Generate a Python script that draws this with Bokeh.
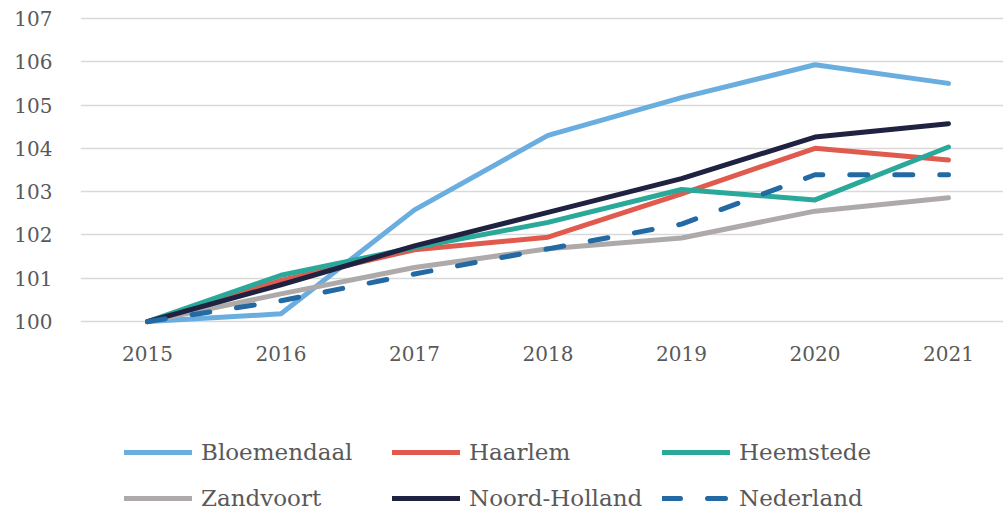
from bokeh.plotting import figure
from bokeh.models import Range1d, FixedTicker, Legend, LegendItem
from bokeh.layouts import column
from bokeh.embed import file_html
from bokeh.resources import INLINE

years = [2015, 2016, 2017, 2018, 2019, 2020, 2021]
year_labels = ["2015", "2016", "2017", "2018", "2019", "2020", "2021"]
y_ticks = [100, 101, 102, 103, 104, 105, 106, 107]

bloemendaal = [100, 100.18, 102.58, 104.3, 105.17, 105.93, 105.5]
haarlem = [100, 100.95, 101.66, 101.95, 102.95, 104.0, 103.73]
heemstede = [100, 101.07, 101.71, 102.29, 103.05, 102.81, 104.03]
zandvoort = [100, 100.64, 101.25, 101.68, 101.93, 102.55, 102.86]
noord_holland = [100, 100.85, 101.75, 102.52, 103.3, 104.26, 104.57]
nederland = [100, 100.48, 101.1, 101.68, 102.25, 103.39, 103.39]

series = [
    ("Bloemendaal", bloemendaal, "#6aaee0", "solid"),
    ("Haarlem", haarlem, "#e05a4e", "solid"),
    ("Heemstede", heemstede, "#2aa899", "solid"),
    ("Zandvoort", zandvoort, "#aeaaaa", "solid"),
    ("Noord-Holland", noord_holland, "#1f2240", "solid"),
    ("Nederland", nederland, "#2369a4", "18 27"),
]

FONT = "DejaVu Serif"
TXT = "#595959"
LW = 5

p = figure(width=1003, height=370, output_backend="svg", toolbar_location=None,
           x_range=Range1d(2014.498, 2021.412), y_range=Range1d(99.91, 107.09),
           min_border_left=80, min_border_right=0, min_border_top=14, min_border_bottom=45)
p.outline_line_color = None
p.xgrid.grid_line_color = None
p.ygrid.grid_line_color = "#d9d9d9"
p.ygrid.grid_line_width = 1.6
p.ygrid.ticker = FixedTicker(ticks=y_ticks)

p.yaxis.ticker = FixedTicker(ticks=y_ticks)
p.xaxis.ticker = FixedTicker(ticks=years)
p.xaxis.major_label_overrides = {y: l for y, l in zip(years, year_labels)}
for ax in (p.xaxis[0], p.yaxis[0]):
    ax.axis_line_color = None
    ax.major_tick_line_color = None
    ax.minor_tick_line_color = None
    ax.major_label_text_font = FONT
    ax.major_label_text_font_size = "20px"
    ax.major_label_text_color = TXT
p.yaxis.major_label_standoff = 22
p.xaxis.major_label_standoff = 14

for name, vals, color, dash in series:
    p.line(years, vals, line_color=color, line_width=LW, line_dash=dash,
           line_cap="round", line_join="round")

# legend panel (separate figure below the chart); its lines lie outside its view
q = figure(width=1003, height=142, output_backend="svg", toolbar_location=None,
           x_range=Range1d(0, 1), y_range=Range1d(0, 1),
           min_border_left=80, min_border_right=0, min_border_top=0, min_border_bottom=0)
q.outline_line_color = None
q.axis.visible = False
q.grid.visible = False

legend_renderers = {}
for name, vals, color, dash in series:
    legend_renderers[name] = q.line(years, vals, line_color=color, line_width=LW,
                                    line_dash=dash, line_cap="round")

cols = [(["Bloemendaal", "Zandvoort"], 44), (["Haarlem", "Noord-Holland"], 312),
        (["Heemstede", "Nederland"], 582)]
for names, xpos in cols:
    lg = Legend(items=[LegendItem(label=n, renderers=[legend_renderers[n]]) for n in names],
                location=(xpos, 0), orientation="vertical",
                glyph_width=68, glyph_height=28, label_height=28, label_standoff=9,
                spacing=18, padding=0, margin=0, border_line_color=None,
                background_fill_alpha=0, label_text_font=FONT,
                label_text_font_size="23px", label_text_color=TXT)
    q.add_layout(lg, "center")

open("out.html", "w").write(file_html(column(p, q), INLINE))
